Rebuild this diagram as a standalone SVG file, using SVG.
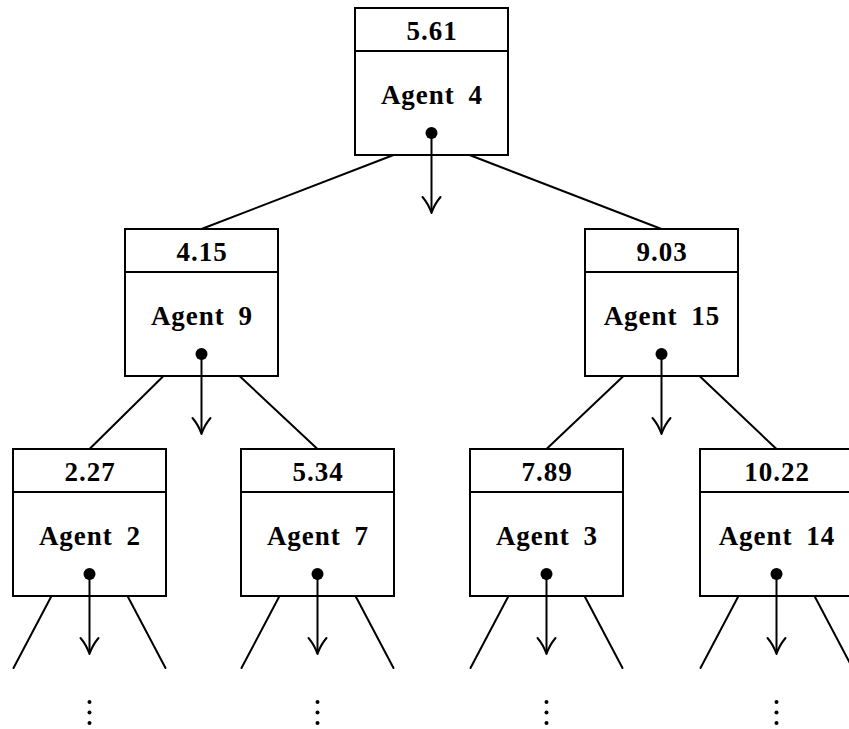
<svg xmlns="http://www.w3.org/2000/svg" width="849" height="729" viewBox="0 0 849 729">
  <style>
    .box { fill: #ffffff; stroke: #000000; stroke-width: 2; }
    .rule { stroke: #000000; stroke-width: 2; }
    .val, .name { font-family: "Liberation Serif", "Times New Roman", serif; font-weight: bold; font-size: 27px; fill: #000000; text-anchor: middle; letter-spacing: 1px; }
    .name { word-spacing: 6px; }
    .edge { stroke: #000000; stroke-width: 2; fill: none; stroke-linecap: round; }
    .ptr { stroke: #000000; stroke-width: 2; fill: none; }
    .head { stroke: #000000; stroke-width: 2; fill: none; stroke-linecap: round; stroke-linejoin: round; }
    .dot { fill: #000000; }
  </style>
  <defs>
    <!-- a node: value cell on top, agent cell below, with a pointer leaving the agent cell -->
    <g id="cell-frame">
      <rect class="box" x="0" y="0" width="153" height="147"/>
      <line class="rule" x1="0" y1="43" x2="153" y2="43"/>
      <circle class="dot" cx="76.5" cy="125" r="6"/>
      <line class="ptr" x1="76.5" y1="125" x2="76.5" y2="204"/>
      <path class="head" d="M67.5,189 Q73.5,196 76.5,205 Q79.5,196 85.5,189"/>
    </g>
  </defs>

  <!-- tree edges -->
  <g id="connectors">
    <line class="edge" x1="393.5" y1="155" x2="201.5" y2="229"/>
    <line class="edge" x1="469.5" y1="155" x2="661.5" y2="229"/>
    <line class="edge" x1="163.5" y1="376" x2="89.5" y2="449"/>
    <line class="edge" x1="239.5" y1="376" x2="317.5" y2="449"/>
    <line class="edge" x1="623.5" y1="376" x2="546.5" y2="449"/>
    <line class="edge" x1="699.5" y1="376" x2="776.5" y2="449"/>
    <!-- open subtrees below the leaves -->
    <line class="edge" x1="51.5" y1="596" x2="13.5" y2="668"/>
    <line class="edge" x1="127.5" y1="596" x2="165.5" y2="668"/>
    <line class="edge" x1="279.5" y1="596" x2="241.5" y2="668"/>
    <line class="edge" x1="355.5" y1="596" x2="393.5" y2="668"/>
    <line class="edge" x1="508.5" y1="596" x2="470.5" y2="668"/>
    <line class="edge" x1="584.5" y1="596" x2="622.5" y2="668"/>
    <line class="edge" x1="738.5" y1="596" x2="700.5" y2="668"/>
    <line class="edge" x1="814.5" y1="596" x2="852.5" y2="668"/>
  </g>

  <g id="node-agent4" transform="translate(355,8)">
    <use href="#cell-frame"/>
    <text class="val" x="77" y="32">5.61</text>
    <text class="name" x="77" y="96">Agent 4</text>
  </g>
  <g id="node-agent9" transform="translate(125,229)">
    <use href="#cell-frame"/>
    <text class="val" x="77" y="32">4.15</text>
    <text class="name" x="77" y="96">Agent 9</text>
  </g>
  <g id="node-agent15" transform="translate(585,229)">
    <use href="#cell-frame"/>
    <text class="val" x="77" y="32">9.03</text>
    <text class="name" x="77" y="96">Agent 15</text>
  </g>
  <g id="node-agent2" transform="translate(13,449)">
    <use href="#cell-frame"/>
    <text class="val" x="77" y="32">2.27</text>
    <text class="name" x="77" y="96">Agent 2</text>
  </g>
  <g id="node-agent7" transform="translate(241,449)">
    <use href="#cell-frame"/>
    <text class="val" x="77" y="32">5.34</text>
    <text class="name" x="77" y="96">Agent 7</text>
  </g>
  <g id="node-agent3" transform="translate(470,449)">
    <use href="#cell-frame"/>
    <text class="val" x="77" y="32">7.89</text>
    <text class="name" x="77" y="96">Agent 3</text>
  </g>
  <g id="node-agent14" transform="translate(700,449)">
    <use href="#cell-frame"/>
    <text class="val" x="77" y="32">10.22</text>
    <text class="name" x="77" y="96">Agent 14</text>
  </g>

  <!-- vertical ellipses marking the continuing subtrees -->
  <g id="continuations">
    <circle class="dot" cx="89.5" cy="702" r="2"/>
    <circle class="dot" cx="89.5" cy="712.5" r="2"/>
    <circle class="dot" cx="89.5" cy="723" r="2"/>
    <circle class="dot" cx="317.5" cy="702" r="2"/>
    <circle class="dot" cx="317.5" cy="712.5" r="2"/>
    <circle class="dot" cx="317.5" cy="723" r="2"/>
    <circle class="dot" cx="546.5" cy="702" r="2"/>
    <circle class="dot" cx="546.5" cy="712.5" r="2"/>
    <circle class="dot" cx="546.5" cy="723" r="2"/>
    <circle class="dot" cx="776.5" cy="702" r="2"/>
    <circle class="dot" cx="776.5" cy="712.5" r="2"/>
    <circle class="dot" cx="776.5" cy="723" r="2"/>
  </g>
</svg>
